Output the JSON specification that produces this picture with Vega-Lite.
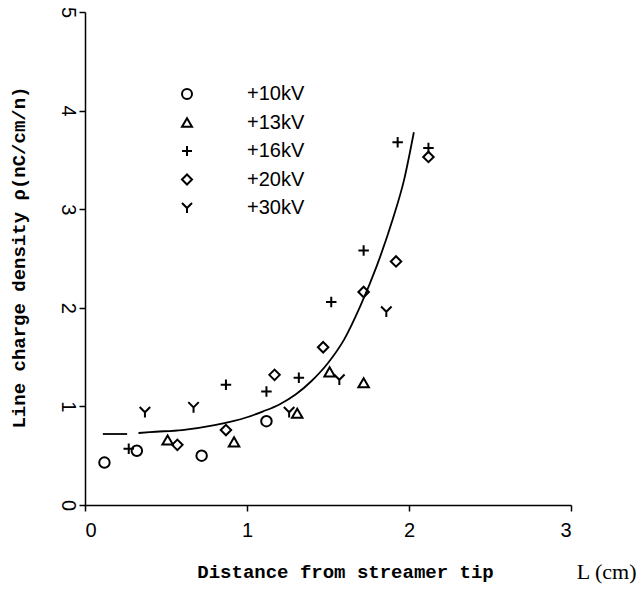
{
  "$schema": "https://vega.github.io/schema/vega-lite/v6.json",
  "width": 486,
  "height": 493,
  "autosize": {"type": "none"},
  "padding": {"left": 85, "top": 12, "right": 70, "bottom": 84},
  "background": "white",
  "config": {
    "view": {"stroke": null},
    "axis": {
      "grid": false,
      "domainColor": "black",
      "domainWidth": 1.5,
      "tickColor": "black",
      "tickWidth": 1.5,
      "tickSize": 6,
      "labelColor": "black",
      "labelFont": "Liberation Sans",
      "labelFontSize": 20,
      "titleColor": "black",
      "titleFont": "Liberation Mono",
      "titleFontWeight": "bold",
      "titleFontSize": 19
    }
  },
  "datasets": {
    "pts": [
      {"L": 0.12, "rho": 0.43, "series": "+10kV"},
      {"L": 0.32, "rho": 0.55, "series": "+10kV"},
      {"L": 0.72, "rho": 0.50, "series": "+10kV"},
      {"L": 1.12, "rho": 0.85, "series": "+10kV"},
      {"L": 0.51, "rho": 0.66, "series": "+13kV"},
      {"L": 0.92, "rho": 0.64, "series": "+13kV"},
      {"L": 1.31, "rho": 0.93, "series": "+13kV"},
      {"L": 1.51, "rho": 1.35, "series": "+13kV"},
      {"L": 1.72, "rho": 1.24, "series": "+13kV"},
      {"L": 0.27, "rho": 0.57, "series": "+16kV"},
      {"L": 0.87, "rho": 1.22, "series": "+16kV"},
      {"L": 1.12, "rho": 1.15, "series": "+16kV"},
      {"L": 1.32, "rho": 1.29, "series": "+16kV"},
      {"L": 1.52, "rho": 2.06, "series": "+16kV"},
      {"L": 1.72, "rho": 2.58, "series": "+16kV"},
      {"L": 1.93, "rho": 3.68, "series": "+16kV"},
      {"L": 2.12, "rho": 3.62, "series": "+16kV"},
      {"L": 0.57, "rho": 0.61, "series": "+20kV"},
      {"L": 0.87, "rho": 0.76, "series": "+20kV"},
      {"L": 1.17, "rho": 1.32, "series": "+20kV"},
      {"L": 1.47, "rho": 1.60, "series": "+20kV"},
      {"L": 1.72, "rho": 2.16, "series": "+20kV"},
      {"L": 1.92, "rho": 2.47, "series": "+20kV"},
      {"L": 2.12, "rho": 3.53, "series": "+20kV"},
      {"L": 0.37, "rho": 0.94, "series": "+30kV"},
      {"L": 0.67, "rho": 0.99, "series": "+30kV"},
      {"L": 1.26, "rho": 0.94, "series": "+30kV"},
      {"L": 1.57, "rho": 1.27, "series": "+30kV"},
      {"L": 1.86, "rho": 1.96, "series": "+30kV"}
    ],
    "fit": [
      {"L": 0.11, "rho": 0.72, "seg": "a"},
      {"L": 0.26, "rho": 0.72, "seg": "a"},
      {"L": 0.33, "rho": 0.73, "seg": "b"},
      {"L": 0.4, "rho": 0.74, "seg": "b"},
      {"L": 0.6, "rho": 0.76, "seg": "b"},
      {"L": 0.8, "rho": 0.81, "seg": "b"},
      {"L": 1.0, "rho": 0.89, "seg": "b"},
      {"L": 1.1, "rho": 0.95, "seg": "b"},
      {"L": 1.2, "rho": 1.02, "seg": "b"},
      {"L": 1.3, "rho": 1.12, "seg": "b"},
      {"L": 1.4, "rho": 1.26, "seg": "b"},
      {"L": 1.5, "rho": 1.44, "seg": "b"},
      {"L": 1.6, "rho": 1.68, "seg": "b"},
      {"L": 1.7, "rho": 2.02, "seg": "b"},
      {"L": 1.8, "rho": 2.42, "seg": "b"},
      {"L": 1.9, "rho": 2.9, "seg": "b"},
      {"L": 1.97, "rho": 3.3, "seg": "b"},
      {"L": 2.03, "rho": 3.78, "seg": "b"}
    ],
    "unit": [{"label": "L (cm)"}]
  },
  "layer": [
    {
      "data": {"name": "fit"},
      "mark": {"type": "line", "color": "black", "strokeWidth": 1.8, "interpolate": "monotone"},
      "encoding": {
        "x": {"field": "L", "type": "quantitative"},
        "y": {"field": "rho", "type": "quantitative"},
        "detail": {"field": "seg"}
      }
    },
    {
      "data": {"name": "pts"},
      "mark": {"type": "point", "filled": false, "strokeWidth": 2, "color": "black", "opacity": 1, "size": 110},
      "encoding": {
        "x": {
          "field": "L", "type": "quantitative",
          "scale": {"domain": [0, 3], "nice": false},
          "axis": {
            "values": [0, 1, 2, 3],
            "format": "d",
            "title": "Distance from streamer tip",
            "labelPadding": 9,
            "titleX": 260,
            "titleY": 72,
            "titleAlign": "center",
            "titleBaseline": "alphabetic"
          }
        },
        "y": {
          "field": "rho", "type": "quantitative",
          "scale": {"domain": [0, 5], "nice": false},
          "axis": {
            "values": [0, 1, 2, 3, 4, 5],
            "format": "d",
            "labelAngle": 90,
            "labelAlign": "center",
            "labelBaseline": "middle",
            "labelPadding": 12,
            "title": "Line charge density ρ(nC/cm/n)",
            "titleAngle": 270,
            "titleX": -67,
            "titleY": 245,
            "titleAlign": "center",
            "titleBaseline": "middle"
          }
        },
        "shape": {
          "field": "series", "type": "nominal",
          "scale": {
            "domain": ["+10kV", "+13kV", "+16kV", "+20kV", "+30kV"],
            "range": ["circle", "triangle-up", "M-1,0H1M0,-1V1", "diamond", "M-1,-1L0,0L1,-1M0,0L0,1"]
          },
          "legend": {
            "title": null,
            "orient": "none",
            "legendX": 92,
            "legendY": 72,
            "padding": 0,
            "rowPadding": 8.5,
            "symbolSize": 100,
            "symbolStrokeWidth": 2,
            "symbolStrokeColor": "black",
            "symbolType": "circle",
            "labelOffset": 50,
            "labelFont": "Liberation Sans",
            "labelFontSize": 20,
            "labelColor": "black"
          }
        }
      }
    },
    {
      "data": {"name": "unit"},
      "mark": {"type": "text", "font": "Liberation Serif", "fontSize": 22, "color": "black", "align": "center", "baseline": "alphabetic"},
      "encoding": {
        "x": {"datum": 3.22, "type": "quantitative"},
        "y": {"datum": -0.75, "type": "quantitative"},
        "text": {"field": "label"}
      }
    }
  ]
}
